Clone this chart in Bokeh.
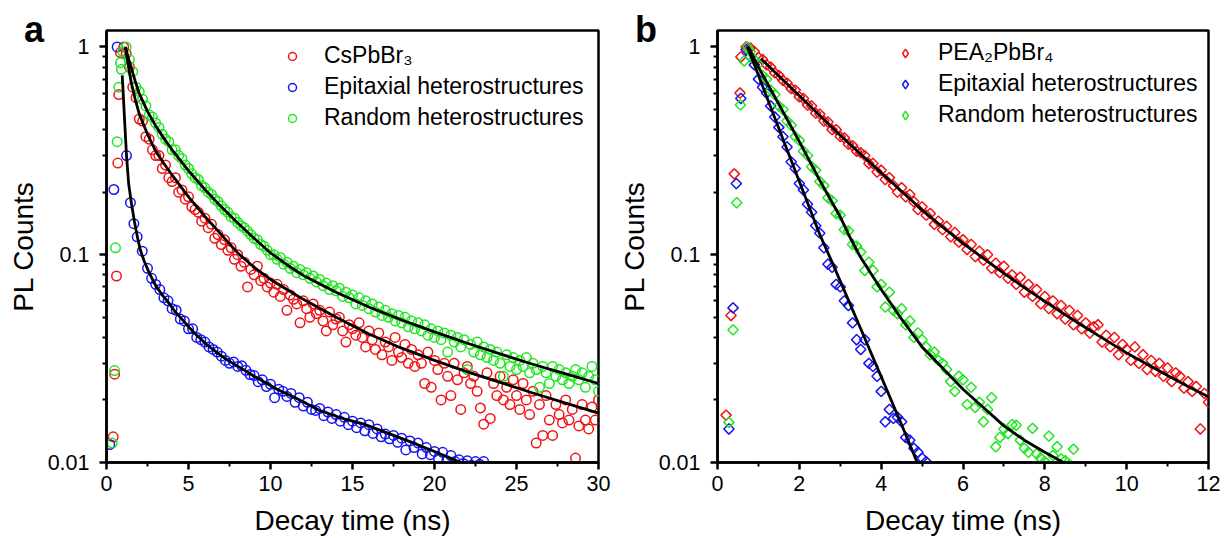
import numpy as np
from bokeh.plotting import figure
from bokeh.models import (FixedTicker, CustomJSTickFormatter, Legend, LegendItem,
                          Range1d)
from bokeh.layouts import row
from bokeh.embed import file_html
from bokeh.resources import INLINE

RED = "#f01414"
BLUE = "#1414f0"
GREEN = "#22e622"
FONT = "Liberation Sans"

# ---------------- panel a : CsPbBr3 ----------------
cs_rise_t = [0.41, 0.50, 0.61, 0.69, 0.75, 0.85, 1.05]
cs_rise_v = [0.0133, 0.0266, 0.079, 0.276, 0.59, 0.94, 1.0]
cs_t0, cs_dt = 1.2, 0.2
cs_v = [0.93, 0.80, 0.64, 0.57, 0.45, 0.44, 0.37, 0.36, 0.32, 0.30,
        0.30, 0.26, 0.27, 0.235, 0.225, 0.235, 0.20, 0.205, 0.185, 0.19,
        0.17, 0.165, 0.16, 0.145, 0.15, 0.135, 0.14, 0.12, 0.125, 0.112,
        0.118, 0.105, 0.108, 0.095, 0.10, 0.088, 0.092, 0.07, 0.085, 0.08,
        0.088, 0.075, 0.077, 0.07, 0.073, 0.066, 0.072, 0.063, 0.068, 0.054,
        0.064, 0.061, 0.058, 0.047, 0.06, 0.055, 0.05, 0.058, 0.052, 0.054,
        0.048, 0.043, 0.053, 0.046, 0.049, 0.05, 0.043, 0.038, 0.046, 0.044,
        0.041, 0.047, 0.04, 0.036, 0.043, 0.039, 0.035, 0.042, 0.033, 0.038,
        0.036, 0.031, 0.04, 0.034, 0.032, 0.037, 0.03, 0.035, 0.029, 0.033,
        0.03, 0.024, 0.034, 0.023, 0.031, 0.028, 0.02, 0.03, 0.026, 0.021,
        0.03, 0.025, 0.018, 0.027, 0.029, 0.024, 0.026, 0.022, 0.0183, 0.0153,
        0.027, 0.0163, 0.024, 0.021, 0.026, 0.02, 0.023, 0.019, 0.025, 0.021,
        0.018, 0.024, 0.02, 0.017, 0.022, 0.0124, 0.019, 0.0135, 0.021, 0.016,
        0.0135, 0.019, 0.017, 0.0155, 0.02, 0.016, 0.018, 0.0105, 0.015, 0.019,
        0.016, 0.0145, 0.0185, 0.016, 0.02]

epa_rise_t = [0.2, 0.45, 0.65, 1.22, 1.46, 1.67, 1.87, 2.18]
epa_rise_v = [0.0122, 0.206, 1.0, 0.30, 0.178, 0.141, 0.122, 0.104]
epa_t0, epa_dt = 2.5, 0.25
epa_v = [0.086, 0.077, 0.072, 0.068, 0.062, 0.06, 0.055, 0.054, 0.049, 0.048,
         0.044, 0.044, 0.04, 0.039, 0.038, 0.036, 0.035, 0.034, 0.0325, 0.031,
         0.03, 0.0305, 0.029, 0.0292, 0.0278, 0.0265, 0.0262, 0.0245, 0.025, 0.0232,
         0.0238, 0.0205, 0.0225, 0.022, 0.0208, 0.0215, 0.0195, 0.0205, 0.0187, 0.0195,
         0.018, 0.0178, 0.0182, 0.0168, 0.0175, 0.0163, 0.017, 0.0158, 0.0165, 0.0152,
         0.0158, 0.0147, 0.0155, 0.0142, 0.0152, 0.0138, 0.0145, 0.0133, 0.0137, 0.013,
         0.0135, 0.0125, 0.0131, 0.0115, 0.0127, 0.0118, 0.0124, 0.011, 0.0118, 0.0109,
         0.0113, 0.0104, 0.0112, 0.0102, 0.0108, 0.0101, 0.0103, 0.0099, 0.0102, 0.0097,
         0.0101, 0.0098, 0.0101]

rna_rise_t = [0.35, 0.49, 0.55, 0.65, 0.75, 0.85, 0.91, 1.0]
rna_rise_v = [0.0124, 0.0277, 0.108, 0.35, 0.64, 0.84, 0.78, 0.95]
rna_t0, rna_dt = 1.2, 0.2
rna_v = [1.0, 0.87, 0.76, 0.64, 0.61, 0.56, 0.52, 0.47, 0.46, 0.43,
         0.41, 0.38, 0.36, 0.35, 0.32, 0.32, 0.30, 0.29, 0.27, 0.26,
         0.245, 0.235, 0.23, 0.215, 0.21, 0.2, 0.195, 0.185, 0.18, 0.172,
         0.165, 0.16, 0.152, 0.15, 0.143, 0.138, 0.135, 0.13, 0.125, 0.12,
         0.118, 0.112, 0.11, 0.105, 0.1, 0.1, 0.095, 0.097, 0.09, 0.092,
         0.086, 0.088, 0.082, 0.085, 0.08, 0.082, 0.077, 0.079, 0.074, 0.076,
         0.071, 0.073, 0.068, 0.071, 0.067, 0.069, 0.063, 0.066, 0.062, 0.064,
         0.058, 0.062, 0.057, 0.06, 0.055, 0.058, 0.053, 0.056, 0.051, 0.054,
         0.05, 0.052, 0.048, 0.051, 0.047, 0.05, 0.045, 0.048, 0.044, 0.047,
         0.043, 0.046, 0.041, 0.044, 0.04, 0.043, 0.039, 0.042, 0.034, 0.041,
         0.038, 0.04, 0.036, 0.039, 0.028, 0.037, 0.034, 0.038, 0.033, 0.036,
         0.032, 0.035, 0.031, 0.034, 0.03, 0.026, 0.033, 0.029, 0.032, 0.028,
         0.031, 0.029, 0.032, 0.027, 0.03, 0.028, 0.023, 0.029, 0.027, 0.024,
         0.029, 0.026, 0.028, 0.025, 0.027, 0.024, 0.026, 0.028, 0.025, 0.027,
         0.023, 0.026, 0.029, 0.025, 0.022]

# fits (panel a)
cs_fit_t = [1.16, 1.3, 1.5, 1.75, 2.0, 2.5, 3.0, 3.5, 4.0, 5.0, 6.0, 7.0, 8.0, 9.0,
            10.0, 11.0, 12.0, 14.0, 16.0, 18.0, 20.0, 22.0, 24.0, 26.0, 28.0, 30.0]
cs_fit_v = [1.0, 0.84, 0.68, 0.56, 0.475, 0.38, 0.315, 0.275, 0.242, 0.19, 0.153, 0.125,
            0.102, 0.087, 0.076, 0.068, 0.061, 0.05, 0.0415, 0.0355, 0.031, 0.0273,
            0.0243, 0.0216, 0.0193, 0.0173]
epa_fit_t = [0.96, 1.1, 1.22, 1.35, 1.52, 1.7, 1.9, 2.07, 2.3, 2.6, 3.0, 3.4, 3.7, 4.2,
             4.6, 5.0, 5.5, 6.1, 6.8, 7.4, 8.13, 9.0, 10.4, 11.5, 13.0, 14.5, 15.7,
             17.0, 18.5, 20.0, 21.6]
epa_fit_v = [0.73, 0.45, 0.30, 0.22, 0.177, 0.145, 0.12, 0.105, 0.093, 0.082, 0.071,
             0.064, 0.06, 0.053, 0.049, 0.045, 0.041, 0.037, 0.0335, 0.031, 0.0287,
             0.026, 0.0225, 0.0205, 0.0178, 0.0162, 0.0153, 0.014, 0.0126, 0.0113, 0.0100]
rna_fit_t = [1.16, 1.3, 1.5, 1.75, 2.0, 2.5, 3.0, 3.5, 4.0, 5.0, 6.0, 7.0, 8.0, 9.0,
             10.0, 11.0, 12.0, 14.0, 16.0, 18.0, 20.0, 22.0, 24.0, 26.0, 28.0, 30.0]
rna_fit_v = [1.0, 0.90, 0.80, 0.684, 0.596, 0.49, 0.417, 0.363, 0.32, 0.254, 0.206,
             0.17, 0.142, 0.12, 0.102, 0.0895, 0.0795, 0.066, 0.056, 0.0485, 0.0425,
             0.0375, 0.0333, 0.0297, 0.0267, 0.024]

# ---------------- panel b : PEA2PbBr4 ----------------
pea_rise_t = [0.21, 0.33, 0.41, 0.55, 0.57, 0.70]
pea_rise_v = [0.0169, 0.051, 0.245, 0.60, 0.895, 1.0]
pea_t0, pea_dt = 0.8, 0.1
pea_v = [0.99, 0.95, 0.89, 0.87, 0.82, 0.80, 0.75, 0.73, 0.69, 0.67,
         0.63, 0.62, 0.575, 0.565, 0.525, 0.52, 0.48, 0.475, 0.44, 0.435,
         0.40, 0.40, 0.37, 0.365, 0.34, 0.335, 0.315, 0.31, 0.30, 0.275,
         0.275, 0.25, 0.255, 0.23, 0.235, 0.215, 0.20, 0.21, 0.19, 0.195,
         0.18, 0.165, 0.17, 0.155, 0.158, 0.14, 0.145, 0.132, 0.137, 0.122,
         0.128, 0.115, 0.118, 0.106, 0.112, 0.098, 0.104, 0.094, 0.1, 0.086,
         0.091, 0.082, 0.088, 0.077, 0.08, 0.072, 0.078, 0.066, 0.072, 0.063,
         0.068, 0.058, 0.063, 0.055, 0.06, 0.052, 0.057, 0.049, 0.054, 0.046,
         0.051, 0.044, 0.047, 0.042, 0.045, 0.046, 0.038, 0.041, 0.036, 0.04,
         0.033, 0.037, 0.035, 0.031, 0.036, 0.03, 0.033, 0.028, 0.031, 0.0275,
         0.03, 0.026, 0.0285, 0.0245, 0.027, 0.026, 0.0228, 0.0245, 0.022, 0.0232,
         0.0145, 0.0215, 0.0195]

epb_rise_t = [0.28, 0.38, 0.46, 0.57, 0.70]
epb_rise_v = [0.0145, 0.0555, 0.22, 0.565, 0.97]
epb_t0, epb_dt = 0.8, 0.1
epb_v = [0.9, 0.82, 0.7, 0.64, 0.6, 0.52, 0.46, 0.41, 0.37, 0.33,
         0.28, 0.26, 0.22, 0.205, 0.175, 0.16, 0.138, 0.127, 0.108, 0.09,
         0.087, 0.072, 0.07, 0.06, 0.057, 0.047, 0.039, 0.035, 0.039, 0.03,
         0.029, 0.026, 0.022, 0.0157, 0.018, 0.0163, 0.0165, 0.0157, 0.0132, 0.0128,
         0.0117, 0.0112, 0.0105, 0.0101]

rnb_rise_t = [0.28, 0.38, 0.47, 0.56, 0.65, 0.73]
rnb_rise_v = [0.0156, 0.0435, 0.178, 0.526, 0.856, 1.0]
rnb_t0, rnb_dt = 0.8, 0.1
rnb_v = [0.95, 0.87, 0.83, 0.73, 0.7, 0.62, 0.59, 0.52, 0.5, 0.44,
         0.42, 0.37, 0.355, 0.315, 0.3, 0.265, 0.255, 0.225, 0.215, 0.188,
         0.182, 0.158, 0.155, 0.132, 0.13, 0.112, 0.11, 0.103, 0.084, 0.092,
         0.084, 0.07, 0.072, 0.056, 0.066, 0.054, 0.052, 0.055, 0.046, 0.048,
         0.04, 0.042, 0.039, 0.036, 0.033, 0.034, 0.031, 0.03, 0.028, 0.0245,
         0.022, 0.026, 0.025, 0.019, 0.023, 0.0184, 0.0195, 0.0157, 0.018, 0.0205,
         0.0119, 0.0132, 0.0145, 0.0138, 0.0152, 0.0151, 0.0128, 0.0117, 0.0112, 0.0146,
         0.011, 0.0105, 0.0101, 0.0134, 0.0108, 0.0119, 0.0104, 0.0102, 0.0098, 0.0116]

pea_fit_t = [1.06, 1.5, 2.0, 2.5, 3.0, 3.5, 4.0, 4.5, 5.0, 5.5, 6.0, 6.5, 7.0, 7.5,
             8.0, 8.5, 9.0, 9.5, 10.0, 10.5, 11.0, 11.5, 12.0]
pea_fit_v = [0.88, 0.725, 0.582, 0.468, 0.376, 0.305, 0.248, 0.202, 0.164, 0.136,
             0.1135, 0.096, 0.0813, 0.0695, 0.0596, 0.0514, 0.0445, 0.0387, 0.0337,
             0.0297, 0.0262, 0.0232, 0.0207]
epb_fit_t = [0.73, 1.0, 1.5, 2.0, 2.5, 2.77, 3.0, 3.5, 4.0, 4.5, 4.9]
epb_fit_v = [1.0, 0.73, 0.405, 0.225, 0.125, 0.095, 0.0746, 0.044, 0.0259, 0.0152, 0.0098]
rnb_fit_t = [0.75, 1.0, 1.5, 2.0, 2.5, 3.0, 3.25, 3.5, 4.0, 4.5, 5.0, 5.5, 6.0, 6.5,
             7.0, 7.5, 8.0, 8.5]
rnb_fit_v = [1.0, 0.80, 0.53, 0.35, 0.228, 0.152, 0.12, 0.097, 0.068, 0.049, 0.036,
             0.0285, 0.0225, 0.0184, 0.015, 0.0128, 0.0112, 0.0099]

y_major = [0.01, 0.1, 1]
y_minor = [0.02, 0.03, 0.04, 0.05, 0.06, 0.07, 0.08, 0.09,
           0.2, 0.3, 0.4, 0.5, 0.6, 0.7, 0.8, 0.9]
panel_letters = ["a", "b"]


def series(rise_t, rise_v, t0, dt, vals):
    t = list(rise_t) + [round(t0 + dt * i, 4) for i in range(len(vals))]
    return t, list(rise_v) + list(vals)


def make_fig(width, left, right, xmax, xticks, xminor):
    p = figure(width=width, height=538, x_range=Range1d(0, xmax),
               y_range=Range1d(0.01, 1.2), y_axis_type="log",
               output_backend="svg", toolbar_location=None,
               min_border_left=left, min_border_right=right,
               min_border_top=30, min_border_bottom=76)
    p.grid.visible = False
    p.background_fill_color = "white"
    p.border_fill_color = "white"
    p.outline_line_color = "black"
    p.outline_line_width = 2.5
    p.outline_line_alpha = 1.0
    for ax in (p.xaxis[0], p.yaxis[0]):
        ax.axis_line_width = 2.5
        ax.axis_line_color = "black"
        ax.major_tick_line_width = 2.5
        ax.minor_tick_line_width = 2
        ax.major_tick_out = 7
        ax.major_tick_in = 0
        ax.minor_tick_out = 4
        ax.minor_tick_in = 0
        ax.major_label_text_font = FONT
        ax.major_label_text_font_size = "21.5px"
        ax.major_label_text_color = "black"
        ax.axis_label_text_font = FONT
        ax.axis_label_text_font_size = "28px"
        ax.axis_label_text_font_style = "normal"
        ax.axis_label_text_color = "black"
    p.xaxis.ticker = FixedTicker(ticks=xticks, minor_ticks=xminor)
    p.yaxis.ticker = FixedTicker(ticks=y_major, minor_ticks=y_minor)
    p.yaxis.formatter = CustomJSTickFormatter(code="return tick.toString();")
    p.xaxis.axis_label = "Decay time (ns)"
    p.yaxis.axis_label = "PL Counts"
    p.xaxis.major_label_standoff = 6
    p.yaxis.major_label_standoff = 10
    p.xaxis.axis_label_standoff = 11
    p.yaxis.axis_label_standoff = 6
    return p


def legend(items, loc, gw, standoff):
    return Legend(items=items, location=loc, padding=0, margin=0, spacing=4,
                  glyph_width=gw, glyph_height=gw, label_height=26,
                  label_standoff=standoff, label_text_font=FONT,
                  label_text_font_size="23px", label_text_color="black",
                  border_line_color=None, background_fill_alpha=0)


# ---- figure a ----
pa = make_fig(612, 106, 14, 30, [0, 5, 10, 15, 20, 25, 30],
              [2.5, 7.5, 12.5, 17.5, 22.5, 27.5])
circ = dict(marker="circle", size=9.5, fill_color=None, line_width=1.5)
t, v = series(cs_rise_t, cs_rise_v, cs_t0, cs_dt, cs_v)
ra1 = pa.scatter(t, v, line_color=RED, **circ)
t, v = series(epa_rise_t, epa_rise_v, epa_t0, epa_dt, epa_v)
ra2 = pa.scatter(t, v, line_color=BLUE, **circ)
t, v = series(rna_rise_t, rna_rise_v, rna_t0, rna_dt, rna_v)
ra3 = pa.scatter(t, v, line_color=GREEN, **circ)
for ft, fv in ((cs_fit_t, cs_fit_v), (epa_fit_t, epa_fit_v), (rna_fit_t, rna_fit_v)):
    pa.line(ft, fv, line_color="black", line_width=2.8)

pa.add_layout(legend([LegendItem(label="CsPbBr₃", renderers=[ra1]),
                      LegendItem(label="Epitaxial heterostructures", renderers=[ra2]),
                      LegendItem(label="Random heterostructures", renderers=[ra3])],
                     (176, 331), 20, 22))

# ---- figure b ----
pb = make_fig(613, 105, 17, 12, [0, 2, 4, 6, 8, 10, 12], [1, 3, 5, 7, 9, 11])
dia = dict(marker="square", angle=np.pi / 4, size=7.3, fill_color=None, line_width=1.5)
t, v = series(pea_rise_t, pea_rise_v, pea_t0, pea_dt, pea_v)
rb1 = pb.scatter(t, v, line_color=RED, **dia)
t, v = series(epb_rise_t, epb_rise_v, epb_t0, epb_dt, epb_v)
rb2 = pb.scatter(t, v, line_color=BLUE, **dia)
t, v = series(rnb_rise_t, rnb_rise_v, rnb_t0, rnb_dt, rnb_v)
rb3 = pb.scatter(t, v, line_color=GREEN, **dia)
for ft, fv in ((pea_fit_t, pea_fit_v), (epb_fit_t, epb_fit_v), (rnb_fit_t, rnb_fit_v)):
    pb.line(ft, fv, line_color="black", line_width=2.8)

# legend keys: the legend ignores marker angle, so use diamond keys (no visible data)
nan = float("nan")
keys = [pb.scatter([nan], [nan], marker="diamond", size=10, fill_color=None,
                   line_width=1.5, line_color=c) for c in (RED, BLUE, GREEN)]
pb.add_layout(legend([LegendItem(label="PEA₂PbBr₄", renderers=[keys[0]]),
                      LegendItem(label="Epitaxial heterostructures", renderers=[keys[1]]),
                      LegendItem(label="Random heterostructures", renderers=[keys[2]])],
                     (177, 334), 22, 22))

layout = row(pa, pb)
html = file_html(layout, INLINE)

# panel letters (outside the plot frames, where Bokeh clips annotations)
letter_css = ("position:absolute;top:12px;margin:0;padding:0;"
              "font-family:'Liberation Sans',Arial,sans-serif;font-weight:bold;"
              "font-size:36px;line-height:36px;color:#000;")
overlay = "".join(
    '<div style="%sleft:%dpx;">%s</div>' % (letter_css, left, txt)
    for txt, left in zip(panel_letters, (24, 635)))
html = html.replace("</body>", overlay + "</body>", 1)
open("out.html", "w").write(html)
